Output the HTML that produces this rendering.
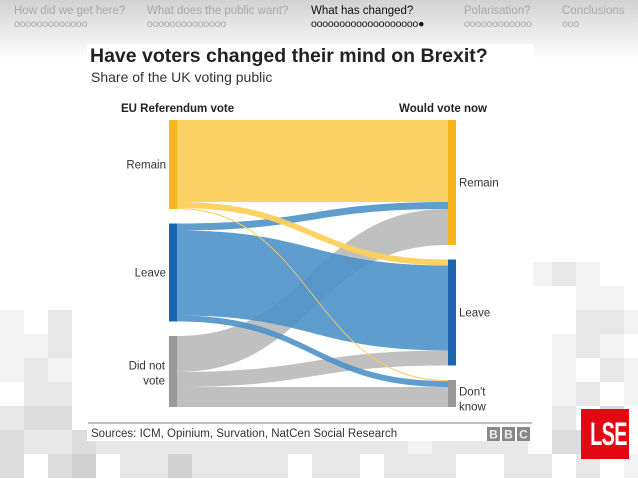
<!DOCTYPE html>
<html><head><meta charset="utf-8"><style>
body{margin:0;width:638px;height:479px;overflow:hidden;background:#fff;font-family:"Liberation Sans",sans-serif;position:relative}
#hdr{position:absolute;left:0;top:0;width:638px;height:60px;background:linear-gradient(#d2d2d2,#e6e6e6 45%,#fafafa 90%,#fff)}
.nav{position:absolute;top:5px;font-size:11.5px;color:#a8a8a8;line-height:13px;white-space:nowrap}
.nav .d{font-size:10.5px;letter-spacing:-0.2px}
.nav.cur{color:#111}
#tiles{position:absolute;left:0;top:0}
#card{position:absolute;left:87px;top:44px;width:446px;height:397px;background:#fff}
#lse{position:absolute;left:581px;top:409px;width:48px;height:50px;background:#e30613;overflow:hidden}
#lse span{position:absolute;left:0;top:0;width:48px;height:50px;display:block;text-align:center;line-height:50px;color:#fff;font-family:"Liberation Sans Narrow","Liberation Sans",sans-serif;font-weight:bold;font-size:32px;transform:scaleX(0.62);transform-origin:center;letter-spacing:-1px}
</style></head><body>
<div id="hdr"></div>
<svg id="tiles" width="638" height="479"></svg>
<div class="nav" style="left:14px">How did we get here?<br><span class="d">ooooooooooooo</span></div>
<div class="nav" style="left:147px">What does the public want?<br><span class="d">oooooooooooooo</span></div>
<div class="nav cur" style="left:311px">What has changed?<br><span class="d">ooooooooooooooooooo●</span></div>
<div class="nav" style="left:464px">Polarisation?<br><span class="d">oooooooooooo</span></div>
<div class="nav" style="left:562px">Conclusions<br><span class="d">ooo</span></div>
<div id="card"></div>
<svg id="chart" width="638" height="479" style="position:absolute;left:0;top:0">
<text x="90" y="62" font-size="19.5" font-weight="bold" fill="#222">Have voters changed their mind on Brexit?</text>
<text x="91" y="82" font-size="14" fill="#333">Share of the UK voting public</text>
<text x="121" y="112" font-size="11.5" font-weight="bold" fill="#222">EU Referendum vote</text>
<text x="487" y="112" font-size="11.5" font-weight="bold" fill="#222" text-anchor="end">Would vote now</text>
<g id="flows"></g><g id="nodes"></g>
<line x1="88" y1="423" x2="532" y2="423" stroke="#999" stroke-width="1.2"/>
<text x="91" y="437" font-size="11.5" fill="#333">Sources: ICM, Opinium, Survation, NatCen Social Research</text>
<g>
<rect x="487" y="427" width="13" height="14" fill="#888"/><rect x="502" y="427" width="13" height="14" fill="#888"/><rect x="517" y="427" width="13" height="14" fill="#888"/>
<text x="493.5" y="438.5" font-size="12" font-weight="bold" fill="#eee" text-anchor="middle">B</text>
<text x="508.5" y="438.5" font-size="12" font-weight="bold" fill="#eee" text-anchor="middle">B</text>
<text x="523.5" y="438.5" font-size="12" font-weight="bold" fill="#eee" text-anchor="middle">C</text></g>
</svg>
<div id="lse"><span>LSE</span></div>
<script>
// data
const sources=["Remain","Leave","Did not vote"];
const targets=["Remain","Leave","Don't know"];
const fromRemain=[82,6,1];
const fromLeave=[7,85,6];
const fromDidNotVote=[36,15,20];
const flows=[fromRemain,fromLeave,fromDidNotVote];

const NS="http://www.w3.org/2000/svg";
const top0=120, gap=14.5, scale=1.0, xL=169, xR=448, bw=8;
const srcCol=["#f9b51c","#1b64ae","#999999"], flowCol=["#fcd05c","#4a90c8","#bdbdbd"];
const y=v=>v*scale;
const srcTot=flows.map(r=>r.reduce((a,b)=>a+b,0));
const tgtTot=targets.map((_,j)=>flows.reduce((a,r)=>a+r[j],0));
let sy=[],ty=[],acc=top0;
srcTot.forEach(t=>{sy.push(acc);acc+=y(t)+gap;});
acc=top0;tgtTot.forEach(t=>{ty.push(acc);acc+=y(t)+gap;});
const fg=document.getElementById('flows'),ng=document.getElementById('nodes');
let sOff=sy.slice(),tOff=ty.slice();
const paths=[];
flows.forEach((row,i)=>row.forEach((v,j)=>{
  const h=Math.max(y(v),1.3),a=sOff[i],b=tOff[j];sOff[i]+=y(v);tOff[j]+=y(v);
  const x0=xL+bw,x1=xR,m=(x0+x1)/2;
  const p=document.createElementNS(NS,'path');
  p.setAttribute('d',`M${x0},${a}C${m},${a} ${m},${b} ${x1},${b}L${x1},${b+h}C${m},${b+h} ${m},${a+h} ${x0},${a+h}Z`);
  p.setAttribute('fill',flowCol[i]);p.setAttribute('fill-opacity',i==1?0.88:0.95);
  
  
  paths.push([i,p]);
}));
[2,1,0].forEach(k=>paths.filter(q=>q[0]===k).forEach(q=>fg.appendChild(q[1])));
function txt(x,yy,s,anchor,name){const t=document.createElementNS(NS,'text');t.setAttribute('x',x);t.setAttribute('y',yy);t.setAttribute('font-size','11.5');t.setAttribute('fill','#333');t.setAttribute('text-anchor',anchor);t.textContent=s;


ng.appendChild(t);return t;}
sources.forEach((s,i)=>{
  const r=document.createElementNS(NS,'rect');r.setAttribute('x',xL);r.setAttribute('y',sy[i]);r.setAttribute('width',bw);r.setAttribute('height',y(srcTot[i]));r.setAttribute('fill',srcCol[i]);
  
  
  ng.appendChild(r);
  const c=sy[i]+y(srcTot[i])/2;
  if(i==2){txt(165,c-2,'Did not','end','source-label-did-not-vote');txt(165,c+13,'vote','end','source-label-did-not-vote-2');}
  else txt(166,c+4,s,'end','source-label-'+s.toLowerCase());
});
targets.forEach((s,i)=>{
  const r=document.createElementNS(NS,'rect');r.setAttribute('x',xR);r.setAttribute('y',ty[i]);r.setAttribute('width',bw);r.setAttribute('height',y(tgtTot[i]));r.setAttribute('fill',srcCol[i]);
  
  
  ng.appendChild(r);
  const c=ty[i]+y(tgtTot[i])/2;
  if(i==2){txt(459,c+2,"Don't",'start','target-label-dont-know');txt(459,c+17,'know','start','target-label-dont-know-2');}
  else txt(459,c+4,s,'start','target-label-'+s.toLowerCase());
});
const tg=document.getElementById('tiles');
const pat=["0000000000000000000000121000",
"0000000000000000000000001102",
"1020000000000000000000002211",
"1120000000000000000000012101",
"1210000000000000000000010212",
"0220000000000000000000012010",
"2330000000000000000000020302",
"3223222222222222212222033202",
"3034022422220220222002202010"];
const shades=["none","#f3f3f3","#e8e8e8","#dcdcdc","#d0d0d0"];
pat.forEach((row,r)=>[...row].forEach((c,k)=>{if(c==='0')return;
  const q=document.createElementNS(NS,'rect');q.setAttribute('x',k*24);q.setAttribute('y',262+r*24);q.setAttribute('width',24);q.setAttribute('height',24);q.setAttribute('fill',shades[+c]);
  tg.appendChild(q);}));
</script>
</body></html>
